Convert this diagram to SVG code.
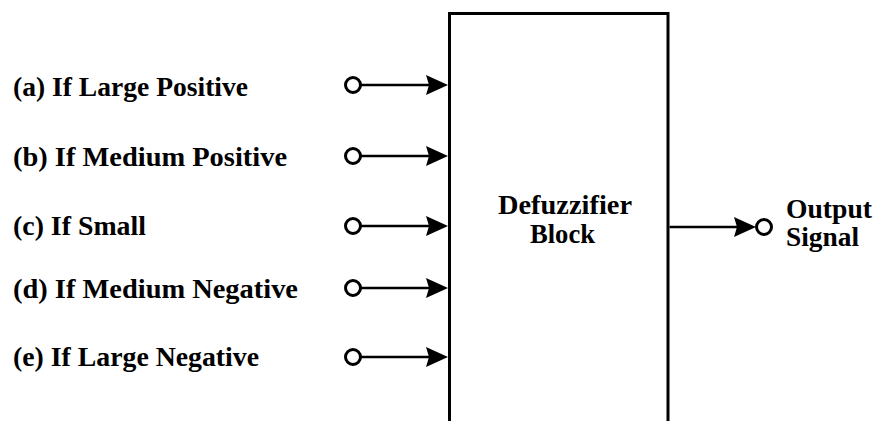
<svg xmlns="http://www.w3.org/2000/svg" width="875" height="421" viewBox="0 0 875 421">
<style>
.lbl{font-family:"Liberation Serif","Times New Roman",serif;font-weight:bold;font-size:28px;fill:#000}
.wire{stroke:#000;stroke-width:2.5;fill:none}
.term{stroke:#000;stroke-width:3;fill:#fff}
.ah{fill:#000;stroke:none}
</style>
<defs>
<path id="head" class="ah" d="M0,0 L-22,-10 L-19,0 L-22,10 Z"/>
</defs>
<rect width="875" height="421" fill="#fff"/>
<g id="block">
<path d="M449.5,421 V13.5 H668 V421" stroke="#000" stroke-width="3" fill="none"/>
<text class="lbl" x="498" y="214" textLength="134" lengthAdjust="spacingAndGlyphs">Defuzzifier</text>
<text class="lbl" x="530" y="243" textLength="65" lengthAdjust="spacingAndGlyphs">Block</text>
</g>
<g id="in-a">
<text class="lbl" x="13" y="96" textLength="235" lengthAdjust="spacingAndGlyphs">(a) If Large Positive</text>
<circle class="term" cx="353" cy="85" r="7.5"/>
</g>
<g id="in-b">
<text class="lbl" x="13" y="166" textLength="274" lengthAdjust="spacingAndGlyphs">(b) If Medium Positive</text>
<circle class="term" cx="353" cy="156" r="7.5"/>
</g>
<g id="in-c">
<text class="lbl" x="13" y="235" textLength="133" lengthAdjust="spacingAndGlyphs">(c) If Small</text>
<circle class="term" cx="353" cy="226" r="7.5"/>
</g>
<g id="in-d">
<text class="lbl" x="13" y="298" textLength="285" lengthAdjust="spacingAndGlyphs">(d) If Medium Negative</text>
<circle class="term" cx="353" cy="288" r="7.5"/>
</g>
<g id="in-e">
<text class="lbl" x="13" y="366" textLength="246" lengthAdjust="spacingAndGlyphs">(e) If Large Negative</text>
<circle class="term" cx="353" cy="357" r="7.5"/>
</g>
<g id="out">
<circle class="term" cx="764" cy="227" r="7.5"/>
<text class="lbl" x="786" y="218" textLength="86" lengthAdjust="spacingAndGlyphs">Output</text>
<text class="lbl" x="786" y="246" textLength="73" lengthAdjust="spacingAndGlyphs">Signal</text>
</g>
<g id="connectors">
<line class="wire" x1="361" y1="85" x2="432" y2="85"/>
<use href="#head" x="448" y="85"/>
<line class="wire" x1="361" y1="156" x2="432" y2="156"/>
<use href="#head" x="448" y="156"/>
<line class="wire" x1="361" y1="226" x2="432" y2="226"/>
<use href="#head" x="448" y="226"/>
<line class="wire" x1="361" y1="288" x2="432" y2="288"/>
<use href="#head" x="448" y="288"/>
<line class="wire" x1="361" y1="357" x2="432" y2="357"/>
<use href="#head" x="448" y="357"/>
<line class="wire" x1="669.5" y1="227" x2="740" y2="227"/>
<use href="#head" x="756" y="227"/>
</g>
</svg>
